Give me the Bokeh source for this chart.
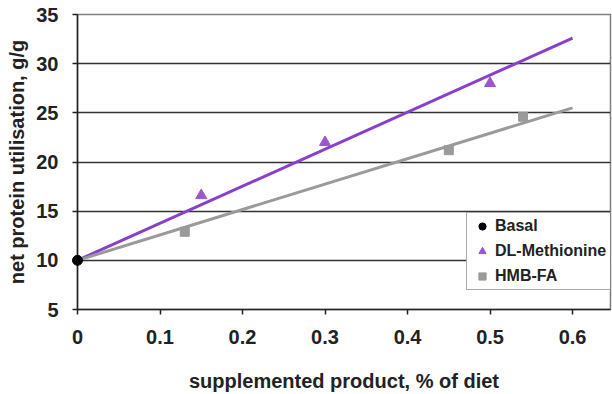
from bokeh.plotting import figure
from bokeh.models import Range1d, FixedTicker, Legend, LegendItem
from bokeh.embed import file_html
from bokeh.resources import INLINE

# ---- data ----
basal_x = [0.0]
basal_y = [10.0]
met_x = [0.15, 0.30, 0.50]
met_y = [16.6, 22.0, 28.0]
hmb_x = [0.13, 0.45, 0.54]
hmb_y = [12.9, 21.2, 24.6]
fit_x = [0.0, 0.6]
met_fit_y = [10.0, 32.6]
hmb_fit_y = [10.0, 25.5]
x_ticks = [0, 0.1, 0.2, 0.3, 0.4, 0.5, 0.6]
x_tick_labels = ["0", "0.1", "0.2", "0.3", "0.4", "0.5", "0.6"]
y_ticks = [5, 10, 15, 20, 25, 30, 35]

FONT = "Liberation Sans"
PURPLE = "#8840C8"
PURPLE_M = "#9A55D2"
GRAY = "#9A9A9A"

p = figure(width=612, height=394, output_backend="svg", toolbar_location=None,
           x_range=Range1d(0, 0.646), y_range=Range1d(5, 35),
           min_border_left=77, min_border_right=2, min_border_top=14, min_border_bottom=83)
p.background_fill_color = "white"
p.border_fill_color = "white"
p.outline_line_color = "#808080"
p.outline_line_width = 1.5

p.xgrid.visible = False
p.ygrid.ticker = FixedTicker(ticks=y_ticks)
p.ygrid.grid_line_color = "#333333"
p.ygrid.grid_line_width = 1.5

for ax in (p.xaxis[0], p.yaxis[0]):
    ax.axis_line_color = "#222222"
    ax.axis_line_width = 1.5
    ax.major_tick_line_color = "#222222"
    ax.major_tick_line_width = 1.5
    ax.major_tick_out = 5
    ax.major_tick_in = 0
    ax.minor_tick_line_color = None
    ax.major_label_text_font = FONT
    ax.major_label_text_font_style = "bold"
    ax.major_label_text_font_size = "20px"
    ax.major_label_text_color = "#222222"
    ax.axis_label_text_font = FONT
    ax.axis_label_text_font_style = "bold"
    ax.axis_label_text_font_size = "20px"
    ax.axis_label_text_color = "#222222"

p.xaxis.ticker = FixedTicker(ticks=x_ticks)
p.xaxis.major_label_overrides = {t: l for t, l in zip(x_ticks, x_tick_labels)}
p.xaxis.major_label_standoff = 15
p.xaxis.axis_label = "supplemented product, % of diet"
p.xaxis.axis_label_standoff = 23

p.yaxis.ticker = FixedTicker(ticks=y_ticks)
p.yaxis.major_label_standoff = 14
p.yaxis.axis_label = "net protein utilisation, g/g"
p.yaxis.axis_label_standoff = 5

# fitted lines
p.line(fit_x, met_fit_y, line_color=PURPLE, line_width=3)
p.line(fit_x, hmb_fit_y, line_color=GRAY, line_width=3)

# points
r_met = p.scatter(met_x, met_y, marker="triangle", size=11, fill_color=PURPLE_M, line_color=PURPLE_M)
r_hmb = p.scatter(hmb_x, hmb_y, marker="square", size=9, fill_color=GRAY, line_color=GRAY)
r_basal = p.scatter(basal_x, basal_y, marker="circle", size=10, fill_color="black", line_color="black", level="overlay")

legend = Legend(items=[LegendItem(label="Basal", renderers=[r_basal]),
                       LegendItem(label="DL-Methionine", renderers=[r_met]),
                       LegendItem(label="HMB-FA", renderers=[r_hmb])],
                location=(389, 19))
legend.label_text_font = FONT
legend.label_text_font_style = "bold"
legend.label_text_font_size = "16px"
legend.label_text_color = "#222222"
legend.border_line_color = "#555555"
legend.border_line_width = 1.5
legend.background_fill_alpha = 1.0
legend.padding = 4
legend.spacing = 7
legend.label_height = 18
legend.glyph_height = 18
legend.glyph_width = 22
legend.label_standoff = 2
legend.margin = 0
p.add_layout(legend)

open("out.html", "w").write(file_html(p, INLINE))
